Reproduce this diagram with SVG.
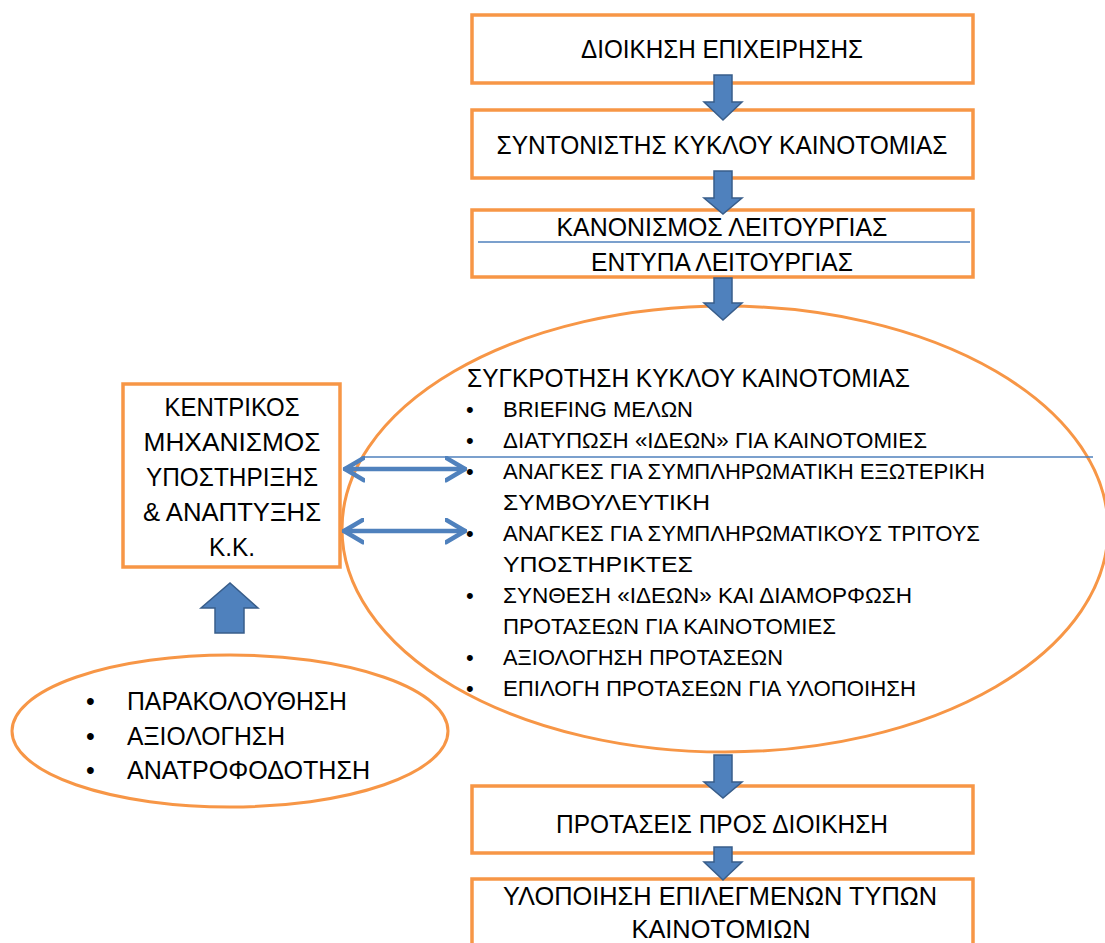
<svg xmlns="http://www.w3.org/2000/svg" width="1105" height="943" viewBox="0 0 1105 943">
<style>
.box{fill:#fff;stroke:#F79646;stroke-width:3.5}
.ell{fill:#fff;stroke:#F79646;stroke-width:3}
.t{font-family:"Liberation Sans","DejaVu Sans",sans-serif;fill:#000}
.bt{font-size:26px;text-anchor:middle}
.et{font-size:22px}
.blk{fill:#4F81BD;stroke:#385D8A;stroke-width:1.5}
.dbl{fill:none;stroke:#4F81BD;stroke-width:4.5;stroke-linecap:round;stroke-linejoin:round}
.thin{stroke:#4F81BD;stroke-width:1.5}
</style>
<defs>
<marker id="chev" viewBox="0 0 10 12" refX="9" refY="6" markerWidth="5" markerHeight="6" orient="auto-start-reverse" markerUnits="strokeWidth">
<path d="M0.5,1 L9,6 L0.5,11" fill="none" stroke="#4F81BD" stroke-width="2" stroke-linecap="round" stroke-linejoin="round"/>
</marker>
</defs>

<g id="n-dioikisi">
<rect class="box" x="472" y="15" width="501" height="68"/>
<text class="t bt" x="722" y="58" textLength="282" lengthAdjust="spacingAndGlyphs">ΔΙΟΙΚΗΣΗ ΕΠΙΧΕΙΡΗΣΗΣ</text>
</g>
<g id="n-syntonistis">
<rect class="box" x="472" y="110" width="501" height="68"/>
<text class="t bt" x="722" y="154" textLength="451" lengthAdjust="spacingAndGlyphs">ΣΥΝΤΟΝΙΣΤΗΣ ΚΥΚΛΟΥ ΚΑΙΝΟΤΟΜΙΑΣ</text>
</g>
<g id="n-kanonismos">
<rect class="box" x="472" y="210" width="501" height="67"/>
<text class="t bt" x="722" y="236" textLength="331" lengthAdjust="spacingAndGlyphs">ΚΑΝΟΝΙΣΜΟΣ ΛΕΙΤΟΥΡΓΙΑΣ</text>
<line class="thin" x1="478" y1="242" x2="970" y2="242"/>
<text class="t bt" x="722" y="271" textLength="262" lengthAdjust="spacingAndGlyphs">ΕΝΤΥΠΑ ΛΕΙΤΟΥΡΓΙΑΣ</text>
</g>

<g id="n-kentrikos">
<rect class="box" x="123" y="384" width="217" height="183"/>
<text class="t bt" x="232" y="416" textLength="135" lengthAdjust="spacingAndGlyphs">ΚΕΝΤΡΙΚΟΣ</text>
<text class="t bt" x="232" y="451" textLength="177" lengthAdjust="spacingAndGlyphs">ΜΗΧΑΝΙΣΜΟΣ</text>
<text class="t bt" x="232" y="486" textLength="172" lengthAdjust="spacingAndGlyphs">ΥΠΟΣΤΗΡΙΞΗΣ</text>
<text class="t bt" x="232" y="521" textLength="178" lengthAdjust="spacingAndGlyphs">&amp; ΑΝΑΠΤΥΞΗΣ</text>
<text class="t bt" x="232" y="556" textLength="46" lengthAdjust="spacingAndGlyphs">Κ.Κ.</text>
</g>

<g id="n-sygkrotisi">
<ellipse class="ell" cx="725" cy="529" rx="383" ry="223"/>
<text class="t" x="467" y="387" font-size="25" textLength="443" lengthAdjust="spacingAndGlyphs">ΣΥΓΚΡΟΤΗΣΗ ΚΥΚΛΟΥ ΚΑΙΝΟΤΟΜΙΑΣ</text>
<g class="t et">
<text x="466" y="417">•</text>
<text x="503" y="417" textLength="190" lengthAdjust="spacingAndGlyphs">BRIEFING ΜΕΛΩΝ</text>
<text x="466" y="448">•</text>
<text x="503" y="448" textLength="424" lengthAdjust="spacingAndGlyphs">ΔΙΑΤΥΠΩΣΗ «ΙΔΕΩΝ» ΓΙΑ ΚΑΙΝΟΤΟΜΙΕΣ</text>
<text x="466" y="479">•</text>
<text x="503" y="479" textLength="482" lengthAdjust="spacingAndGlyphs">ΑΝΑΓΚΕΣ ΓΙΑ ΣΥΜΠΛΗΡΩΜΑΤΙΚΗ ΕΞΩΤΕΡΙΚΗ</text>
<text x="503" y="510" textLength="207" lengthAdjust="spacingAndGlyphs">ΣΥΜΒΟΥΛΕΥΤΙΚΗ</text>
<text x="466" y="541">•</text>
<text x="503" y="541" textLength="477" lengthAdjust="spacingAndGlyphs">ΑΝΑΓΚΕΣ ΓΙΑ ΣΥΜΠΛΗΡΩΜΑΤΙΚΟΥΣ ΤΡΙΤΟΥΣ</text>
<text x="503" y="572" textLength="190" lengthAdjust="spacingAndGlyphs">ΥΠΟΣΤΗΡΙΚΤΕΣ</text>
<text x="466" y="603">•</text>
<text x="503" y="603" textLength="409" lengthAdjust="spacingAndGlyphs">ΣΥΝΘΕΣΗ «ΙΔΕΩΝ» ΚΑΙ ΔΙΑΜΟΡΦΩΣΗ</text>
<text x="503" y="634" textLength="333" lengthAdjust="spacingAndGlyphs">ΠΡΟΤΑΣΕΩΝ ΓΙΑ ΚΑΙΝΟΤΟΜΙΕΣ</text>
<text x="466" y="665">•</text>
<text x="503" y="665" textLength="280" lengthAdjust="spacingAndGlyphs">ΑΞΙΟΛΟΓΗΣΗ ΠΡΟΤΑΣΕΩΝ</text>
<text x="466" y="696">•</text>
<text x="503" y="696" textLength="413" lengthAdjust="spacingAndGlyphs">ΕΠΙΛΟΓΗ ΠΡΟΤΑΣΕΩΝ ΓΙΑ ΥΛΟΠΟΙΗΣΗ</text>
</g>
<line class="thin" x1="363" y1="457" x2="1093" y2="457"/>
</g>

<g id="n-parakolouthisi">
<ellipse class="ell" cx="230" cy="731" rx="218" ry="76"/>
<g class="t" font-size="25">
<text x="86" y="710">•</text>
<text x="127" y="710" textLength="220" lengthAdjust="spacingAndGlyphs">ΠΑΡΑΚΟΛΟΥΘΗΣΗ</text>
<text x="86" y="745">•</text>
<text x="127" y="745" textLength="158" lengthAdjust="spacingAndGlyphs">ΑΞΙΟΛΟΓΗΣΗ</text>
<text x="86" y="779">•</text>
<text x="127" y="779" textLength="243" lengthAdjust="spacingAndGlyphs">ΑΝΑΤΡΟΦΟΔΟΤΗΣΗ</text>
</g>
</g>

<g id="n-protaseis">
<rect class="box" x="472" y="786" width="501" height="67"/>
<text class="t bt" x="722" y="833" textLength="332" lengthAdjust="spacingAndGlyphs">ΠΡΟΤΑΣΕΙΣ ΠΡΟΣ ΔΙΟΙΚΗΣΗ</text>
</g>
<g id="n-ylopoiisi">
<rect class="box" x="472" y="879" width="501" height="90"/>
<text class="t bt" x="720" y="905" textLength="434" lengthAdjust="spacingAndGlyphs">ΥΛΟΠΟΙΗΣΗ ΕΠΙΛΕΓΜΕΝΩΝ ΤΥΠΩΝ</text>
<text class="t bt" x="721" y="938" textLength="179" lengthAdjust="spacingAndGlyphs">ΚΑΙΝΟΤΟΜΙΩΝ</text>
</g>

<g id="connectors">
<path class="blk" d="M714,75 L732,75 L732,102 L742,102 L723,120 L704,102 L714,102 Z"/>
<path class="blk" d="M714,171 L732,171 L732,198 L742,198 L723,214 L704,198 L714,198 Z"/>
<path class="blk" d="M714,278 L732,278 L732,303 L742,303 L723,320 L704,303 L714,303 Z"/>
<path class="blk" d="M714,755 L732,755 L732,782 L742,782 L723,798 L704,782 L714,782 Z"/>
<path class="blk" d="M714,847 L732,847 L732,862 L742,862 L723,880 L704,862 L714,862 Z"/>
<path class="blk" d="M215,633 L244,633 L244,608 L258,608 L230,583 L201,608 L215,608 Z"/>
<line class="dbl" x1="345" y1="469" x2="465" y2="469" marker-start="url(#chev)" marker-end="url(#chev)"/>
<line class="dbl" x1="344" y1="531" x2="465" y2="531" marker-start="url(#chev)" marker-end="url(#chev)"/>
</g>
</svg>
